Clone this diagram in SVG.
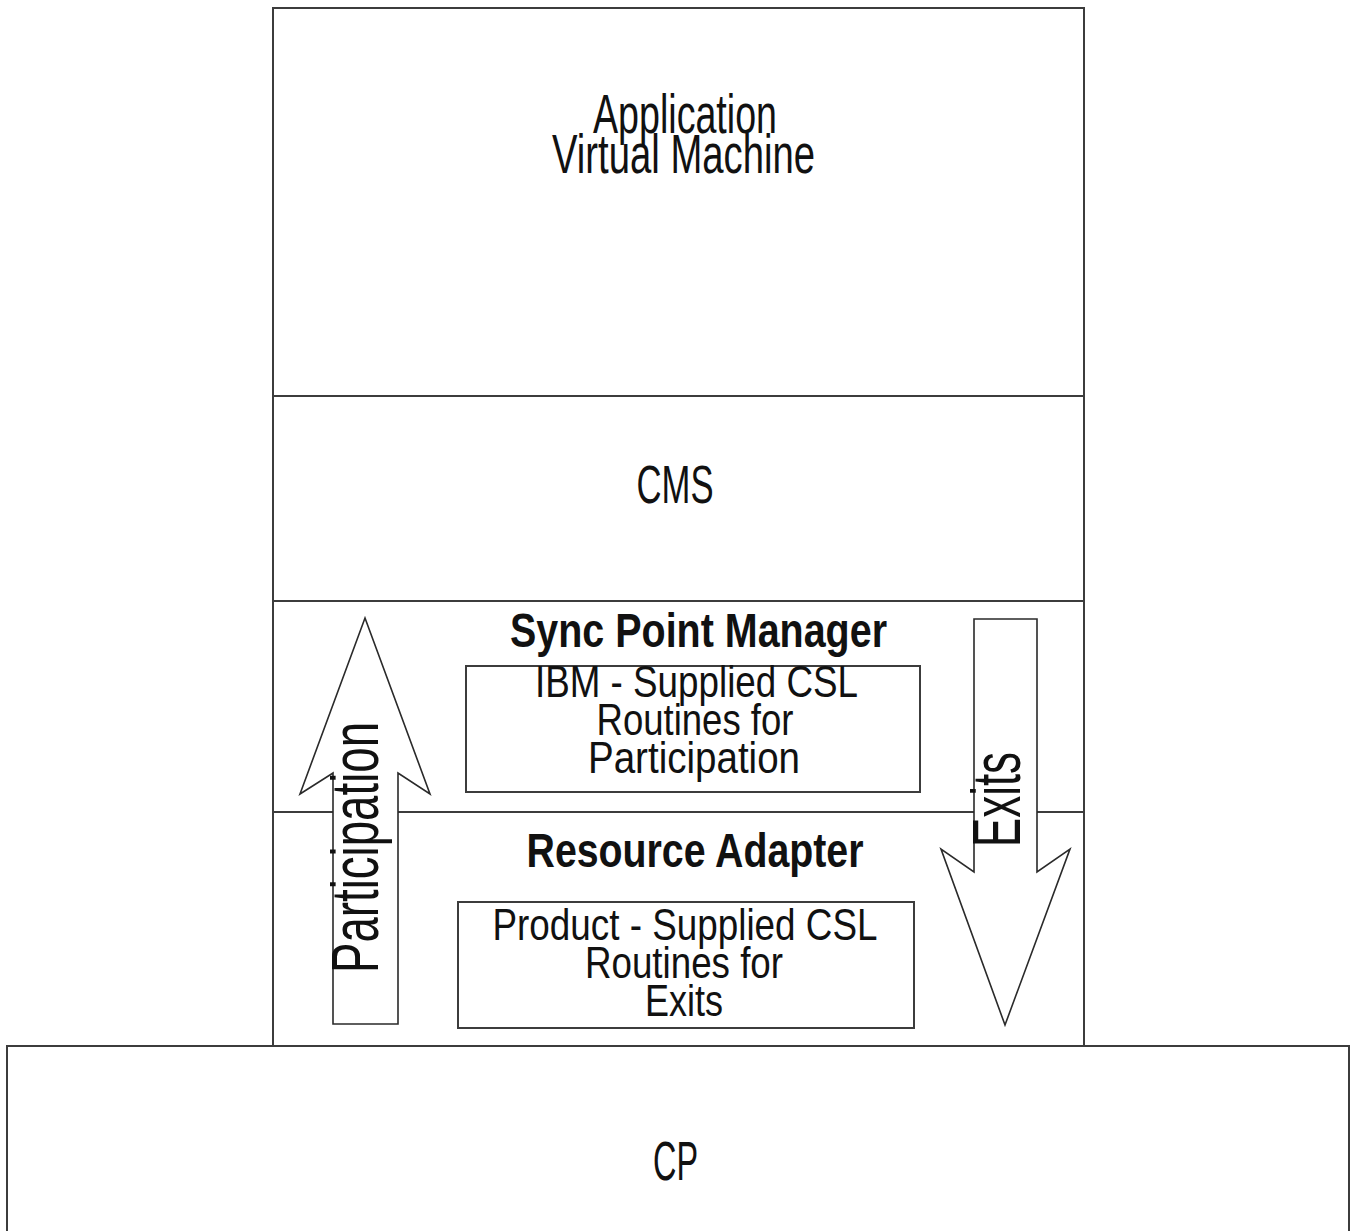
<svg xmlns="http://www.w3.org/2000/svg" width="1351" height="1231" viewBox="0 0 1351 1231">
<style>
.box{fill:#fff;stroke:#3c3c3c;stroke-width:2}
.ln{stroke:#3c3c3c;stroke-width:2;fill:none}
.arr{fill:#fff;stroke:#2a2a2a;stroke-width:1.6;stroke-linejoin:miter}
.t{font-family:"Liberation Sans",Arial,sans-serif;fill:#111;text-anchor:middle}
.b{font-weight:bold}
</style>
<rect width="1351" height="1231" fill="#fff"/>
<g id="vm">
<rect class="box" x="273" y="8" width="811" height="388"/>
<text class="t" x="685" y="133" font-size="55" textLength="184" lengthAdjust="spacingAndGlyphs">Application</text>
<text class="t" x="683.5" y="173" font-size="55" textLength="263" lengthAdjust="spacingAndGlyphs">Virtual Machine</text>
</g>
<g id="cms">
<rect class="box" x="273" y="396" width="811" height="205"/>
<text class="t" x="675" y="503" font-size="54" textLength="77" lengthAdjust="spacingAndGlyphs">CMS</text>
</g>
<g id="spm">
<rect class="box" x="273" y="601" width="811" height="211"/>
<text class="t b" x="698.5" y="647" font-size="49" textLength="377" lengthAdjust="spacingAndGlyphs">Sync Point Manager</text>
</g>
<g id="ibm">
<rect class="box" x="466" y="666" width="454" height="126"/>
<text class="t" x="696.5" y="697" font-size="45" textLength="323" lengthAdjust="spacingAndGlyphs">IBM - Supplied CSL</text>
<text class="t" x="695" y="735" font-size="45" textLength="197" lengthAdjust="spacingAndGlyphs">Routines for</text>
<text class="t" x="694" y="773" font-size="45" textLength="212" lengthAdjust="spacingAndGlyphs">Participation</text>
</g>
<g id="ra">
<rect class="box" x="273" y="812" width="811" height="234"/>
<text class="t b" x="695" y="867" font-size="49" textLength="337" lengthAdjust="spacingAndGlyphs">Resource Adapter</text>
</g>
<g id="prod">
<rect class="box" x="458" y="902" width="456" height="126"/>
<text class="t" x="685" y="940" font-size="45" textLength="385" lengthAdjust="spacingAndGlyphs">Product - Supplied CSL</text>
<text class="t" x="684" y="978" font-size="45" textLength="198" lengthAdjust="spacingAndGlyphs">Routines for</text>
<text class="t" x="684" y="1016" font-size="45" textLength="78" lengthAdjust="spacingAndGlyphs">Exits</text>
</g>
<g id="cp">
<rect class="box" x="7" y="1046" width="1342" height="200"/>
<text class="t" x="675.5" y="1180" font-size="56" textLength="45" lengthAdjust="spacingAndGlyphs">CP</text>
</g>
<g id="connectors">
<g id="participation-arrow">
<polygon class="arr" points="365,618 430,794 398,773 398,1024 333,1024 333,773 300,794"/>
<text class="t" transform="translate(378,847.5) rotate(-90)" x="0" y="0" font-size="67" textLength="251" lengthAdjust="spacingAndGlyphs">Participation</text>
</g>
<g id="exits-arrow">
<polygon class="arr" points="974,619 1037,619 1037,872 1070,849 1005,1025 941,849 974,872"/>
<text class="t" transform="translate(1020,799.5) rotate(-90)" x="0" y="0" font-size="68" textLength="95" lengthAdjust="spacingAndGlyphs">Exits</text>
</g>
</g>
</svg>
